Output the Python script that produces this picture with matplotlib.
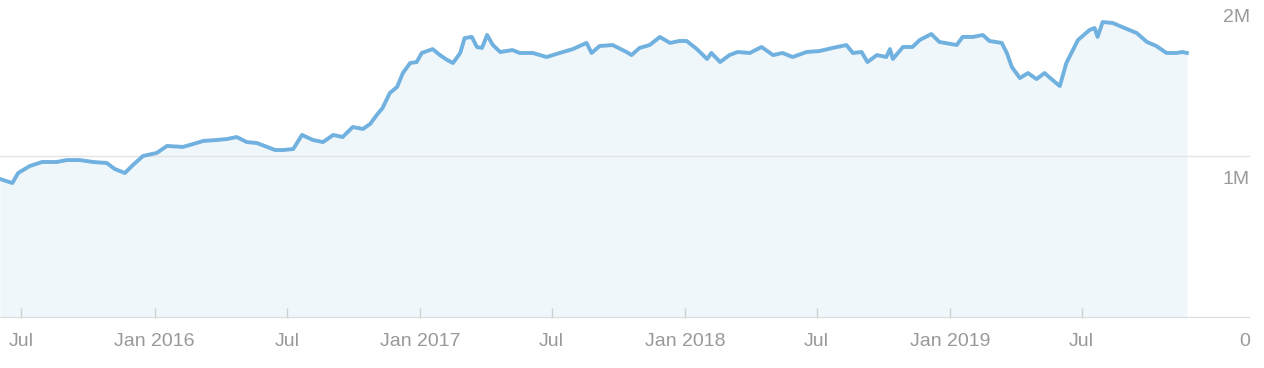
import matplotlib
matplotlib.use("Agg")
import matplotlib.pyplot as plt
import matplotlib.transforms as mtransforms
import pandas as pd

# traffic series, values in millions
dates = [
    "2015-06-02", "2015-06-19", "2015-06-27", "2015-07-13", "2015-07-30", "2015-08-19",
    "2015-09-02", "2015-09-20", "2015-10-08", "2015-10-27", "2015-11-07", "2015-11-21",
    "2015-12-02", "2015-12-16", "2016-01-04", "2016-01-18", "2016-02-09", "2016-02-23",
    "2016-03-08", "2016-03-27", "2016-04-10", "2016-04-23", "2016-05-07", "2016-05-21",
    "2016-06-04", "2016-06-15", "2016-06-26", "2016-07-10", "2016-07-22", "2016-08-06",
    "2016-08-20", "2016-09-03", "2016-09-16", "2016-09-30", "2016-10-14", "2016-10-24",
    "2016-11-02", "2016-11-10", "2016-11-20", "2016-11-30", "2016-12-08", "2016-12-18",
    "2016-12-27", "2017-01-03", "2017-01-18", "2017-01-28", "2017-02-07", "2017-02-15",
    "2017-02-25", "2017-03-03", "2017-03-13", "2017-03-20", "2017-03-27", "2017-04-03",
    "2017-04-11", "2017-04-21", "2017-05-08", "2017-05-18", "2017-06-05", "2017-06-24",
    "2017-07-12", "2017-07-30", "2017-08-18", "2017-08-25", "2017-09-05", "2017-09-23",
    "2017-10-12", "2017-10-19", "2017-10-30", "2017-11-13", "2017-11-27", "2017-12-11",
    "2017-12-24", "2018-01-03", "2018-01-17", "2018-01-31", "2018-02-06", "2018-02-18",
    "2018-03-03", "2018-03-14", "2018-03-31", "2018-04-16", "2018-05-02", "2018-05-15",
    "2018-05-29", "2018-06-17", "2018-07-05", "2018-07-23", "2018-08-11", "2018-08-20",
    "2018-09-01", "2018-09-09", "2018-09-22", "2018-10-05", "2018-10-10", "2018-10-14",
    "2018-10-28", "2018-11-10", "2018-11-20", "2018-12-06", "2018-12-17", "2019-01-10",
    "2019-01-18", "2019-02-01", "2019-02-15", "2019-02-24", "2019-03-13", "2019-03-20",
    "2019-03-27", "2019-04-07", "2019-04-18", "2019-04-30", "2019-05-11", "2019-05-22",
    "2019-06-01", "2019-06-10", "2019-06-26", "2019-07-12", "2019-07-19", "2019-07-23",
    "2019-07-30", "2019-08-13", "2019-08-26", "2019-09-15", "2019-09-29", "2019-10-12",
    "2019-10-26", "2019-11-09", "2019-11-17", "2019-11-23",
]
traffic_m = [
    0.858, 0.833, 0.895, 0.938, 0.963, 0.963,
    0.975, 0.975, 0.963, 0.957, 0.920, 0.895,
    0.944, 1.000, 1.019, 1.062, 1.056, 1.074,
    1.093, 1.099, 1.105, 1.117, 1.086, 1.080,
    1.056, 1.037, 1.037, 1.043, 1.130, 1.099,
    1.086, 1.130, 1.117, 1.179, 1.167, 1.198,
    1.253, 1.296, 1.389, 1.426, 1.512, 1.574,
    1.580, 1.636, 1.660, 1.623, 1.593, 1.574,
    1.636, 1.728, 1.735, 1.673, 1.667, 1.747,
    1.685, 1.642, 1.654, 1.636, 1.636, 1.611,
    1.636, 1.660, 1.698, 1.636, 1.679, 1.685,
    1.642, 1.623, 1.667, 1.685, 1.735, 1.698,
    1.710, 1.710, 1.660, 1.599, 1.636, 1.580,
    1.623, 1.642, 1.636, 1.673, 1.623, 1.636,
    1.611, 1.642, 1.648, 1.667, 1.685, 1.636,
    1.642, 1.580, 1.623, 1.611, 1.660, 1.599,
    1.673, 1.673, 1.716, 1.753, 1.704, 1.685,
    1.735, 1.735, 1.747, 1.710, 1.698, 1.636,
    1.549, 1.481, 1.512, 1.475, 1.512, 1.469,
    1.432, 1.574, 1.716, 1.778, 1.790, 1.735,
    1.827, 1.821, 1.796, 1.759, 1.704, 1.679,
    1.636, 1.636, 1.642, 1.636,
]
tick_dates = ["2015-07-01", "2016-01-01", "2016-07-01", "2017-01-01", "2017-07-01",
              "2018-01-01", "2018-07-01", "2019-01-01", "2019-07-01"]
tick_labels = ["Jul", "Jan 2016", "Jul", "Jan 2017", "Jul", "Jan 2018", "Jul", "Jan 2019", "Jul"]
y_ticks = [0, 1, 2]
y_labels = ["0", "1M", "2M"]

x = pd.to_datetime(dates)
y = [v * 1e6 for v in traffic_m]

line_col = "#70b1e0"
fill_col = "#f0f7fb"
text_col = "#999999"

plt.rcParams["font.family"] = ["Liberation Sans", "DejaVu Sans"]

fig = plt.figure(figsize=(12.64, 3.68), dpi=100)
ax = fig.add_axes([0, 50 / 368, 1250 / 1264, 318 / 368])

ax.fill_between(x, y, 0, color=fill_col, linewidth=0, zorder=1)
ax.plot(x, y, color=line_col, linewidth=2.8, solid_joinstyle="round", zorder=3)

ax.set_xlim(pd.Timestamp("2015-06-02"), pd.Timestamp("2020-02-18"))
ax.set_ylim(0, 1.963e6)

for s in ax.spines.values():
    s.set_visible(False)
ax.axhline(0, color="#dcdcdc", linewidth=1.6, zorder=2)
ax.axhline(1e6, color="#e3e3e3", linewidth=1.0, zorder=2)

ax.set_xticks(pd.to_datetime(tick_dates))
ax.set_xticklabels(tick_labels)
ax.tick_params(axis="x", direction="in", length=7, width=1, color="#cfcfcf",
               labelsize=14, labelcolor=text_col, pad=11)
ax.set_yticks([])

# right-side value labels sit just below their gridline
off = mtransforms.offset_copy(ax.get_yaxis_transform(), fig=fig, x=0, y=-23, units="dots")
for t, lab in zip(y_ticks, y_labels):
    ax.text(1.0, t * 1e6, lab, transform=off, ha="right", va="center",
            fontsize=14, color=text_col, clip_on=False)

fig.savefig("out.png", dpi=100)
